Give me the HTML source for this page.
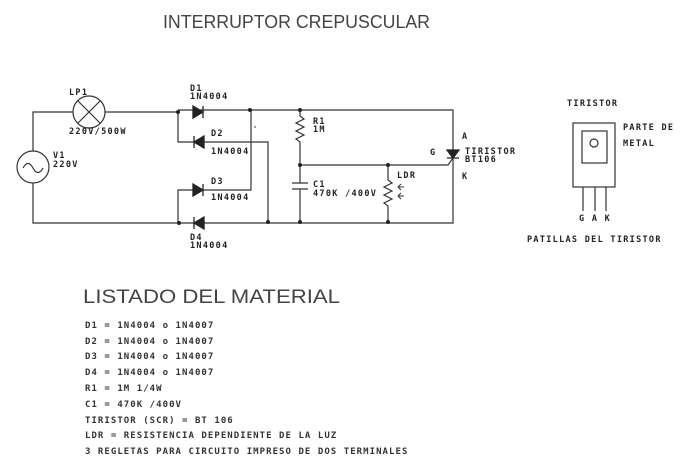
<!DOCTYPE html>
<html><head><meta charset="utf-8"><style>
html,body{margin:0;padding:0;background:#fff;}
svg{display:block}
text{font-family:"DejaVu Sans Mono","Liberation Mono",monospace;fill:#333;}
.s{font-size:8.5px;font-weight:bold;fill:#222;letter-spacing:1.3px}
.l{font-size:9px;font-weight:bold;fill:#333;letter-spacing:1.05px}
</style></head><body>
<svg width="684" height="466" viewBox="0 0 684 466">
<g stroke="#333" stroke-width="1.2" fill="none">
<path d="M33 151 V112 H73 M105 112 H178 M33 183 V223 H453 V110 H178"/>
<circle cx="33" cy="167" r="16"/>
<path d="M23 168 q5 -9 10 0 t10 0"/>
<circle cx="89" cy="112" r="16"/>
<path d="M78 101 L100 123 M100 101 L78 123"/>
<path d="M178 112 V142 H268 V223 M178 223 V190 H251 V110"/>
<path d="M300 110 V116 l4 3 -8 4 8 4 -8 4 8 4 -8 4 4 3 V183 M300 189 V223 M292 183 H308 M292 189 H308"/>
<path d="M300 165 H448 L453 158"/>
<path d="M388 165 V180 l4 3 -8 4 8 4 -8 4 8 4 -8 4 4 3 V223"/>
<path d="M404 187 h-6 m3 -3 l-3 3 3 3 M404 196 h-6 m3 -3 l-3 3 3 3" stroke-width="1"/>
<rect x="573" y="123" width="42" height="64"/>
<rect x="582" y="131" width="25" height="32"/>
<circle cx="594" cy="143" r="4"/>
<path d="M583 187 V211 M595 187 V211 M606 187 V211"/>
</g>
<g fill="#222" stroke="#222" stroke-width="1.3">
<path d="M193 106 L203 112 L193 118 Z M203 106 V118"/>
<path d="M204 136 L194 142 L204 148 Z M194 136 V148"/>
<path d="M193 184 L203 190 L193 196 Z M203 184 V196"/>
<path d="M204 217 L194 223 L204 229 Z M194 217 V229"/>
<path d="M447 150 L459 150 L453 158 Z M447 158 H459"/>
</g>
<g fill="#222">
<circle cx="178" cy="112" r="2"/><circle cx="250" cy="110" r="2"/><circle cx="300" cy="110" r="2"/>
<circle cx="300" cy="165" r="2"/><circle cx="388" cy="165" r="2"/>
<circle cx="179" cy="223" r="2"/><circle cx="268" cy="222" r="2"/><circle cx="300" cy="222" r="2"/><circle cx="388" cy="222" r="2"/>
<circle cx="255" cy="127" r="0.8"/>
</g>
<text x="163" y="28" font-size="18" textLength="267" lengthAdjust="spacingAndGlyphs" style="font-family:'Liberation Sans',sans-serif;fill:#444">INTERRUPTOR CREPUSCULAR</text>
<g>
<text x="69" y="95" class="s">LP1</text>
<text x="69" y="134" class="s">220V/500W</text>
<text x="53" y="158" class="s">V1</text>
<text x="53" y="167" class="s">220V</text>
<text x="190" y="91" class="s">D1</text>
<text x="190" y="99" class="s">1N4004</text>
<text x="211" y="136" class="s">D2</text>
<text x="211" y="154" class="s">1N4004</text>
<text x="211" y="184" class="s">D3</text>
<text x="211" y="200" class="s">1N4004</text>
<text x="190" y="240" class="s">D4</text>
<text x="190" y="248" class="s">1N4004</text>
<text x="313" y="124" class="s">R1</text>
<text x="313" y="132" class="s">1M</text>
<text x="313" y="187" class="s">C1</text>
<text x="313" y="196" class="s">470K /400V</text>
<text x="397" y="178" class="s">LDR</text>
<text x="462" y="139" class="s">A</text>
<text x="430" y="155" class="s">G</text>
<text x="465" y="154" class="s">TIRISTOR</text>
<text x="465" y="162" class="s">BT106</text>
<text x="462" y="179" class="s">K</text>
<text x="567" y="106" class="s">TIRISTOR</text>
<text x="623" y="130" class="s">PARTE DE</text>
<text x="623" y="146" class="s">METAL</text>
<text x="579" y="221" class="s">G A K</text>
<text x="527" y="242" class="s">PATILLAS DEL TIRISTOR</text>
</g>
<text x="83" y="303" font-size="19" textLength="257" lengthAdjust="spacingAndGlyphs" style="font-family:'Liberation Sans',sans-serif;fill:#444">LISTADO DEL MATERIAL</text>
<g>
<text x="85" y="328" class="l">D1 = 1N4004 o 1N4007</text>
<text x="85" y="344" class="l">D2 = 1N4004 o 1N4007</text>
<text x="85" y="359" class="l">D3 = 1N4004 o 1N4007</text>
<text x="85" y="375" class="l">D4 = 1N4004 o 1N4007</text>
<text x="85" y="391" class="l">R1 = 1M 1/4W</text>
<text x="85" y="407" class="l">C1 = 470K /400V</text>
<text x="85" y="423" class="l">TIRISTOR (SCR) = BT 106</text>
<text x="85" y="438" class="l">LDR = RESISTENCIA DEPENDIENTE DE LA LUZ</text>
<text x="85" y="454" class="l">3 REGLETAS PARA CIRCUITO IMPRESO DE DOS TERMINALES</text>
</g>
</svg>
</body></html>
